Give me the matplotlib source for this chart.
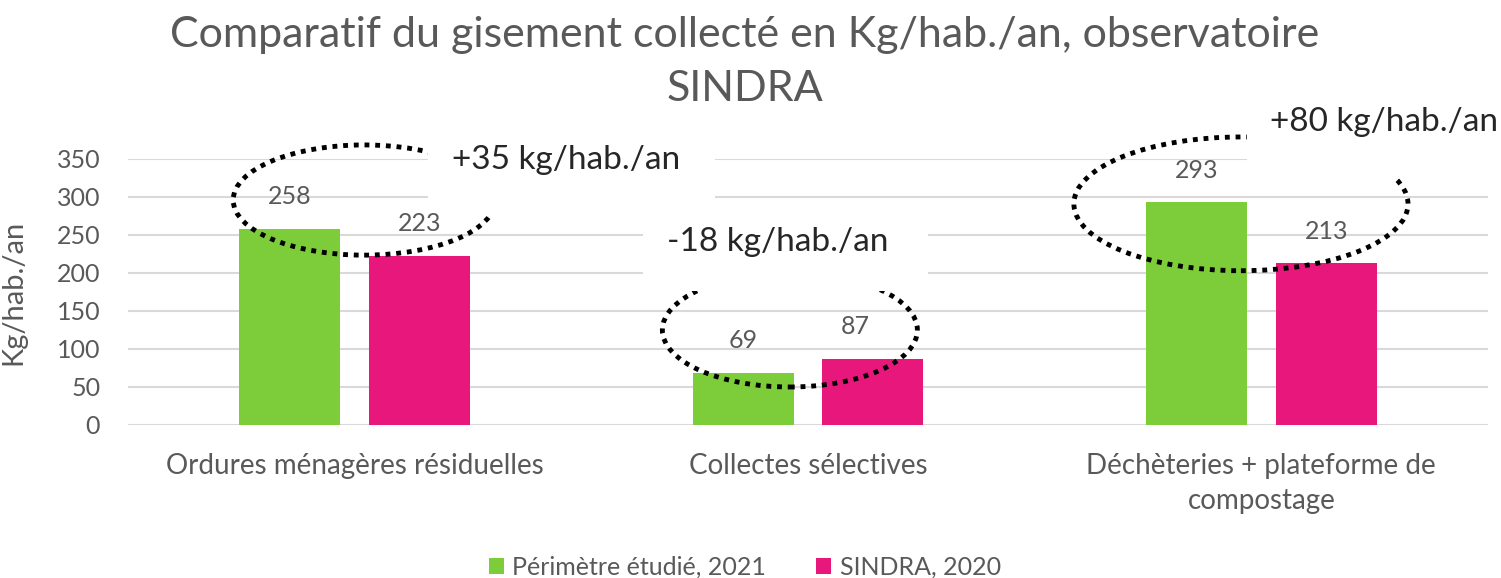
import numpy as np
import matplotlib
matplotlib.use("Agg")
import matplotlib.pyplot as plt
from matplotlib.patches import Ellipse, Rectangle

plt.rcParams['font.family'] = ['Lato', 'DejaVu Sans']

# données
categories = ["Ordures ménagères résiduelles", "Collectes sélectives",
              "Déchèteries + plateforme de\ncompostage"]
perimetre_2021 = [258, 69, 293]
sindra_2020 = [223, 87, 213]
series_names = ["Périmètre étudié, 2021", "SINDRA, 2020"]
ecarts = ["+35 kg/hab./an", "-18 kg/hab./an", "+80 kg/hab./an"]
y_ticks = [0, 50, 100, 150, 200, 250, 300, 350]

GREEN = "#7DCD3B"
PINK = "#E8177B"
GREY = "#595959"
GRID = "#D9D9D9"

W, H = 1501, 578
fig = plt.figure(figsize=(W / 100, H / 100), dpi=100)
ax = fig.add_axes([128 / W, 1 - 425 / H, (1488 - 128) / W, (425 - 159) / H])

x = np.arange(len(categories))
bw = 0.223
off = 0.143
b1 = ax.bar(x - off, perimetre_2021, bw, color=GREEN, label=series_names[0], zorder=2)
b2 = ax.bar(x + off, sindra_2020, bw, color=PINK, label=series_names[1], zorder=2)

# étiquettes de valeurs (un peu décalées comme dans l'original)
dx1 = [0, 0, 0]
dx2 = [0, -13, 0]
for rects, vals, dxs in [(b1, perimetre_2021, dx1), (b2, sindra_2020, dx2)]:
    for r, v, d in zip(rects, vals, dxs):
        ax.annotate(str(v), (r.get_x() + r.get_width() / 2, v), xytext=(d, 23),
                    textcoords="offset points", ha="center", va="center",
                    fontsize=18, color=GREY, zorder=8)

ax.set_xlim(-0.5, 2.5)
ax.set_ylim(0, 350)
ax.set_yticks(y_ticks)
ax.set_xticks(x)
ax.set_xticklabels(categories, fontsize=20, color=GREY, linespacing=1.45)
ax.tick_params(axis="y", length=0, pad=20, labelsize=18, labelcolor=GREY)
ax.tick_params(axis="x", length=0, pad=20)
ax.yaxis.grid(True, color=GRID, linewidth=1.5, zorder=0)
ax.set_axisbelow(True)
for s in ax.spines.values():
    s.set_visible(False)
ax.set_ylabel("Kg/hab./an", fontsize=21, color=GREY)
ax.yaxis.set_label_coords(-0.075, 0.5)

# ellipses pointillées autour des groupes
ellipses = [(0.021, 296, 0.578, 145), (0.960, 125, 0.5625, 150), (1.955, 291, 0.737, 176)]
for cx, cy, ew, eh in ellipses:
    ax.add_patch(Ellipse((cx, cy), ew, eh, fill=False, edgecolor="black",
                         linewidth=3.5, linestyle=(0, (1, 1.2)), zorder=4, clip_on=False))

# zones de texte blanches (masquent grille et ellipses)
boxes = [(428, 128, 715, 215), (643, 215, 928, 291), (1247, 95, 1501, 178)]
text_pos = [(566, 160), (778, 242), (1384, 122)]
for (x0, y0, x1, y1), (tx, ty), t in zip(boxes, text_pos, ecarts):
    ax.add_patch(Rectangle((x0 / W, 1 - y1 / H), (x1 - x0) / W, (y1 - y0) / H,
                           transform=fig.transFigure, facecolor="white",
                           edgecolor="none", zorder=5, clip_on=False))
    ax.text(tx / W, 1 - ty / H, t, transform=fig.transFigure, ha="center", va="center",
            fontsize=24, color="#262626", zorder=6, clip_on=False)

fig.text(745 / W, 1 - 62 / H, "Comparatif du gisement collecté en Kg/hab./an, observatoire\nSINDRA",
         ha="center", va="center", fontsize=31, color=GREY, linespacing=1.5)

fig.legend(handles=[b1, b2], loc="center", bbox_to_anchor=(745 / W, 1 - 567 / H),
           ncol=2, frameon=False, fontsize=18, labelcolor=GREY, handlelength=0.6,
           handleheight=0.6, handletextpad=0.35, columnspacing=2.0)

fig.savefig("out.png", dpi=100)
